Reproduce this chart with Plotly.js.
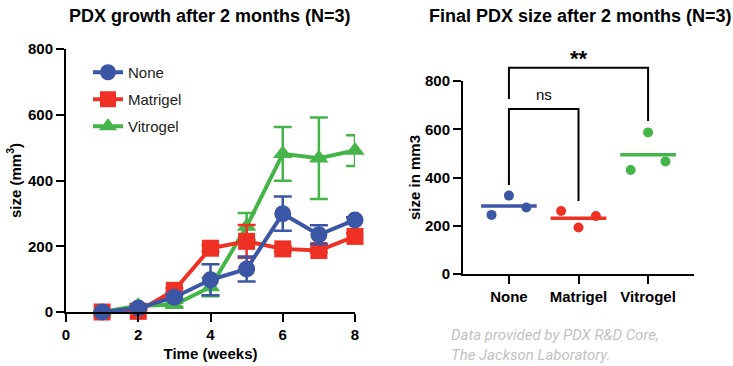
<!DOCTYPE html>
<html>
<head>
<meta charset="utf-8">
<script src="https://cdn.plot.ly/plotly-3.0.1.min.js"></script>
<style>html,body{margin:0;padding:0;background:#fff;}#chart{width:733px;height:366px;}</style>
</head>
<body>
<div id="chart"></div>
<script>
// ---- Data: growth over time ----
const weeks = [1, 2, 3, 4, 5, 6, 7, 8];
const noneMean = [0, 12, 45, 98, 131, 299, 235, 280];
const noneErr = [0, 4, 8, 47, 38, 52, 29, 8];
const matrigelMean = [0, 2, 66, 194, 215, 192, 187, 230];
const matrigelErr = [0, 2, 6, 10, 50, 8, 6, 10];
const vitrogelMean = [0, 19, 22, 76, 260, 481, 468, 491];
const vitrogelErr = [0, 5, 6, 28, 41, 82, 124, 47];

// ---- Data: final size ----
const groups = ['None', 'Matrigel', 'Vitrogel'];
const finalNone = [245, 325, 276];
const finalMatrigel = [261, 193, 240];
const finalVitrogel = [431, 587, 466];

// ---- Significance labels ----
const sigLabels = ['**', 'ns'];

// ---- styles / positions ----
const colors = {None: '#3c56a6', Matrigel: '#ee3124', Vitrogel: '#46b549'};
const jitter = [-0.25, 0, 0.25];
const halfMean = 0.4;
const yMax2 = 800;
const y2Dom = [1 - 274 / 366, 1 - 81 / 366];
// brackets: [fromGroup, toGroup, topValue, leftLegBottom, rightLegBottom, labelValue]
const brackets = [
  [0, 2, 855, 725, 634, 895],
  [0, 1, 684, 369, 303, 742]
];

const FONT = 'Liberation Sans, Arial, sans-serif';

function growthTrace(name, y, err, symbol) {
  return {
    type: 'scatter', mode: 'lines+markers', name: name, legendgroup: name,
    legendrank: groups.indexOf(name) + 1,
    x: weeks, y: y, xaxis: 'x', yaxis: 'y', cliponaxis: false,
    line: {color: colors[name], width: 4},
    marker: {color: colors[name], size: 17, symbol: symbol},
    error_y: {type: 'data', array: err, visible: true, color: colors[name], thickness: 2.5, width: 9}
  };
}

const traces = [
  growthTrace('Vitrogel', vitrogelMean, vitrogelErr, 'triangle-up'),
  growthTrace('Matrigel', matrigelMean, matrigelErr, 'square'),
  growthTrace('None', noneMean, noneErr, 'circle')
];

const finals = [finalNone, finalMatrigel, finalVitrogel];
finals.forEach(function (vals, gi) {
  const name = groups[gi];
  const mean = vals.reduce(function (a, b) { return a + b; }, 0) / vals.length;
  traces.push({
    type: 'scatter', mode: 'lines', showlegend: false,
    x: [gi - halfMean, gi + halfMean], y: [mean, mean],
    xaxis: 'x2', yaxis: 'y2', line: {color: colors[name], width: 3.5}, hoverinfo: 'skip'
  });
  traces.push({
    type: 'scatter', mode: 'markers', showlegend: false,
    x: vals.map(function (v, i) { return gi + jitter[i]; }), y: vals,
    xaxis: 'x2', yaxis: 'y2', cliponaxis: false,
    marker: {color: colors[name], size: 10}
  });
});

function y2Paper(v) { return y2Dom[0] + (v / yMax2) * (y2Dom[1] - y2Dom[0]); }

const shapes = [];
const annotations = [];
brackets.forEach(function (b, i) {
  shapes.push({
    type: 'path', xref: 'x2', yref: 'paper',
    path: 'M ' + b[0] + ' ' + y2Paper(b[3]) + ' L ' + b[0] + ' ' + y2Paper(b[2]) +
          ' L ' + b[1] + ' ' + y2Paper(b[2]) + ' L ' + b[1] + ' ' + y2Paper(b[4]),
    line: {color: '#000', width: 2}
  });
  annotations.push({
    xref: 'x2', yref: 'paper', x: (b[0] + b[1]) / 2, y: y2Paper(b[5]), yanchor: 'middle',
    text: sigLabels[i] === '**' ? '<b>**</b>' : sigLabels[i], showarrow: false,
    font: {family: FONT, size: sigLabels[i] === '**' ? 22 : 15, color: '#000'}
  });
});

annotations.push({
  xref: 'paper', yref: 'paper', x: 210 / 733, y: 1 - 16 / 366, xanchor: 'center', yanchor: 'middle',
  text: '<b>PDX growth after 2 months (N=3)</b>', showarrow: false,
  font: {family: FONT, size: 18, color: '#000'}
});
annotations.push({
  xref: 'paper', yref: 'paper', x: 580 / 733, y: 1 - 16 / 366, xanchor: 'center', yanchor: 'middle',
  text: '<b>Final PDX size after 2 months (N=3)</b>', showarrow: false,
  font: {family: FONT, size: 18, color: '#000'}
});
annotations.push({
  xref: 'paper', yref: 'paper', x: 449 / 733, y: 1 - 345 / 366, xanchor: 'left', yanchor: 'middle',
  align: 'left',
  text: 'Data provided by PDX R&amp;D Core,<br>The Jackson Laboratory.', showarrow: false,
  font: {family: 'Roboto, sans-serif', size: 15, color: '#c2c2c2', style: 'italic'}
});

const axisCommon = {
  showgrid: false, zeroline: false, showline: true, linecolor: '#000', linewidth: 2,
  ticks: 'outside', ticklen: 8, tickwidth: 2, tickcolor: '#000',
  tickfont: {family: FONT, size: 15, color: '#000', weight: 'bold'}
};

const layout = {
  width: 733, height: 366,
  margin: {l: 0, r: 0, t: 0, b: 0},
  paper_bgcolor: '#fff', plot_bgcolor: '#fff',
  showlegend: true,
  legend: {
    x: 88 / 733, y: 1 - 56 / 366, xanchor: 'left', yanchor: 'top',
    traceorder: 'grouped', tracegroupgap: 4.5, bgcolor: 'rgba(0,0,0,0)',
    font: {family: FONT, size: 15, color: '#222'}
  },
  xaxis: Object.assign({}, axisCommon, {
    domain: [66 / 733, 355 / 733], range: [0, 8], tickvals: [0, 2, 4, 6, 8],
    anchor: 'y',
    title: {text: '<b>Time (weeks)</b>', font: {family: FONT, size: 15, color: '#000'}, standoff: 6}
  }),
  yaxis: Object.assign({}, axisCommon, {
    domain: [1 - 312 / 366, 1 - 49 / 366], range: [0, 800], tickvals: [0, 200, 400, 600, 800],
    anchor: 'x',
    title: {text: '<b>size (mm<sup>3</sup>)</b>', font: {family: FONT, size: 15, color: '#000'}, standoff: 3}
  }),
  xaxis2: Object.assign({}, axisCommon, {
    domain: [463 / 733, 694 / 733], range: [-0.66, 2.66], tickvals: [0, 1, 2], ticktext: groups,
    anchor: 'y2'
  }),
  yaxis2: Object.assign({}, axisCommon, {
    domain: y2Dom, range: [0, yMax2], tickvals: [0, 200, 400, 600, 800],
    anchor: 'x2',
    title: {text: '<b>size in mm3</b>', font: {family: FONT, size: 15, color: '#000'}, standoff: 1}
  }),
  shapes: shapes,
  annotations: annotations
};

Plotly.newPlot('chart', traces, layout, {displayModeBar: false, staticPlot: true});
</script>
</body>
</html>
